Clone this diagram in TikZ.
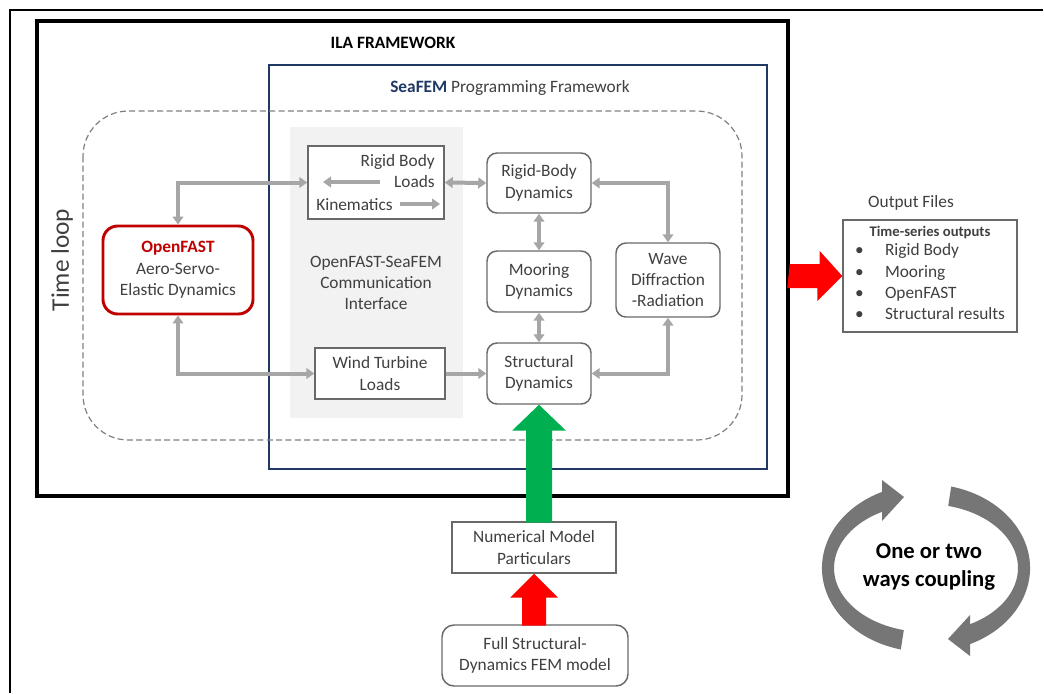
\documentclass[tikz,border=0pt]{standalone}
\usepackage{fontspec}
\setmainfont{Carlito}
\usetikzlibrary{arrows.meta}
\definecolor{navyfem}{RGB}{31,56,100}
\definecolor{ofred}{RGB}{192,0,0}
\definecolor{txtgray}{RGB}{64,64,64}
\definecolor{linkgray}{RGB}{166,166,166}
\definecolor{boxgray}{RGB}{105,105,105}
\definecolor{ifacegray}{RGB}{242,242,242}
\definecolor{cplgray}{RGB}{118,118,118}
\definecolor{fastgreen}{RGB}{0,176,80}
\tikzset{
  txt/.style={font=\fontsize{13}{16}\selectfont, text=txtgray, align=center, inner sep=0pt},
  sqbox/.style={txt, draw=boxgray, line width=1.1pt, fill=white},
  rbox/.style={sqbox, rounded corners=7.5pt},
  link/.style={draw=linkgray, line width=3pt, -{Triangle[width=8pt,length=6pt]}},
  dlink/.style={link, {Triangle[width=8pt,length=6pt]}-{Triangle[width=8pt,length=6pt]}},
  couple/.style={fill=cplgray},
}
\begin{document}
\begin{tikzpicture}[x=0.75pt,y=0.75pt,yscale=-1]
\fill[white] (0,0) rectangle (1044,693);
\useasboundingbox (0,0) rectangle (1044,693);
\draw[line width=1.1pt] (9,10) -- (1043,10);
\draw[line width=1.9pt] (10,9.5) -- (10,693);
\node[draw, line width=2.6pt, minimum width=563.25pt, minimum height=356.25pt, inner sep=0] (ila) at (412.5,258.5) {};
\node[draw=navyfem, line width=1.9pt, minimum width=373.5pt, minimum height=303pt, inner sep=0] (sea) at (518,267) {};
\node[txt, font=\fontsize{13}{16}\selectfont\bfseries, text=black] (ilattl) at (393,43) {ILA FRAMEWORK};
\node[txt] (seattl) at (510,88) {\textcolor{navyfem}{\bfseries SeaFEM} Programming Framework};
\draw[draw=gray, dash pattern=on 4.5pt off 2.5pt, line width=0.9pt, rounded corners=34pt] (83,111) rectangle (742,440);
\node[txt, font=\fontsize{19}{22}\selectfont, rotate=90] (tloop) at (62,260) {Time loop};
\node[fill=ifacegray, minimum width=129.75pt, minimum height=218.25pt, inner sep=0] (iface) at (376.5,272.5) {};
\node[txt] (ifctxt) at (376,283) {OpenFAST-SeaFEM\\Communication\\Interface};
\node[sqbox, minimum width=102pt, minimum height=54.75pt] (rbl) at (376,182.5) {};
\node[txt, align=right, anchor=east] (rbltxt) at (435,171) {Rigid Body\\Loads};
\node[txt, anchor=west] (kintxt) at (316,205) {Kinematics};
\coordinate (ldsA) at (380,182);
\coordinate (ldsB) at (323,182);
\coordinate (kinA) at (400,204);
\coordinate (kinB) at (440,204);
\node[sqbox, minimum width=97.5pt, minimum height=38.25pt] (wtl) at (380,373.5) {Wind Turbine\\Loads};
\node[rbox, draw=ofred, line width=2.2pt, rounded corners=11pt, minimum width=112.5pt, minimum height=66pt] (ofast) at (178,270) {\textcolor{ofred}{\bfseries OpenFAST}\\Aero-Servo-\\Elastic Dynamics};
\node[rbox, minimum width=78pt, minimum height=45pt] (rbd) at (539,183) {Rigid-Body\\Dynamics};
\node[rbox, minimum width=78pt, minimum height=45.75pt] (moor) at (539,281.5) {Mooring\\Dynamics};
\node[rbox, minimum width=78pt, minimum height=45.75pt] (struct) at (539,373.5) {Structural\\Dynamics};
\node[rbox, minimum width=78pt, minimum height=55.5pt] (wave) at (668,280) {Wave\\Diffraction\\-Radiation};
\node[txt] (outttl) at (911,203) {Output Files};
\node[sqbox, minimum width=130.5pt, minimum height=84pt] (out) at (930,276) {{\fontsize{11}{13}\selectfont\bfseries Time-series outputs}\\[1pt]
  \begin{tabular}{@{}l@{\hspace{16pt}}l@{}}
  \textbullet & Rigid Body\\
  \textbullet & Mooring\\
  \textbullet & OpenFAST\\
  \textbullet & Structural results
  \end{tabular}};
\node[sqbox, minimum width=123pt, minimum height=38.25pt] (nmp) at (534,547.5) {Numerical Model\\Particulars};
\node[rbox, rounded corners=9pt, minimum width=139.5pt, minimum height=45.75pt] (fsd) at (535,655.5) {Full Structural-\\Dynamics FEM model};
\draw[dlink] (ofast.north) |- (rbl.west);
\draw[dlink] (ofast.south) |- (wtl.west);
\draw[dlink] (rbl.east) -- (rbd.west);
\draw[dlink] (wave.north) |- (rbd.east);
\draw[dlink] (rbd.south) -- (moor.north);
\draw[dlink] (moor.south) -- (struct.north);
\draw[link] (wtl.east) -- (struct.west);
\draw[dlink] (wave.south) |- (struct.east);
\draw[link] (ldsA) -- (ldsB);
\draw[link] (kinA) -- (kinB);
\fill[red] (ila.east |- out.west) ++(0,-12) -- ++(30,0) -- ++(0,-13) -- (out.west) -- ++(-25,25) -- ++(0,-13) -- ++(-30,0) -- cycle;
\fill[fastgreen] (struct.south) -- ++(27,26) -- ++(-14,0) -- ++(0,92) -- ++(-26,0) -- ++(0,-92) -- ++(-14,0) -- cycle;
\fill[red] (nmp.south) -- ++(24,24) -- ++(-12,0) -- ++(0,28) -- ++(-24,0) -- ++(0,-28) -- ++(-12,0) -- cycle;
\coordinate (cpl) at (926,568);
\fill[couple] (900.8,649.5) arc[start angle=104, end angle=245, x radius=104, y radius=84] -- (882,480) -- (904,497) -- (882,521) -- (882,511.8) arc[start angle=241.4, end angle=104, x radius=92, y radius=64] -- cycle;
\fill[couple] (951.2,486.5) arc[start angle=284, end angle=425, x radius=104, y radius=84] -- (970,656) -- (948,639) -- (970,615) -- (970,624.2) arc[start angle=421.4, end angle=284, x radius=92, y radius=64] -- cycle;
\node[txt, font=\fontsize{17}{21}\selectfont\bfseries, text=black] (cpltxt) at (929,567) {One or two\\ways coupling};
\end{tikzpicture}
\end{document}
